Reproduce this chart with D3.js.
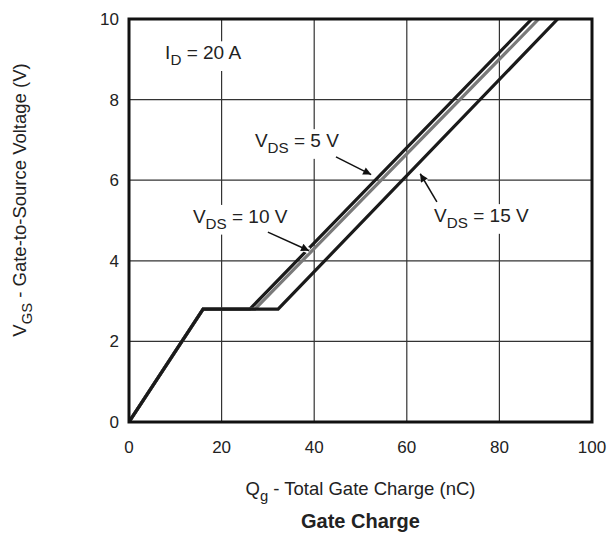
<!DOCTYPE html>
<html>
<head>
<meta charset="utf-8">
<script src="https://cdnjs.cloudflare.com/ajax/libs/d3/7.8.5/d3.min.js"></script>
<style>
  body { margin: 0; background: #fff; }
  svg text { font-family: "Liberation Sans", Arial, sans-serif; fill: #222; }
</style>
</head>
<body>
<div id="chart"></div>
<script>

// axis ticks
var qgTicks = [0, 20, 40, 60, 80, 100];
var vgsTicks = [0, 2, 4, 6, 8, 10];

// curves (nC, V)
var vgsPoints = [0, 2.8, 2.8, 10];
var qgVds5 = [0, 16, 26.1, 87.0];
var qgVds10 = [0, 16, 27.2, 88.5];
var qgVds15 = [0, 16, 32.2, 92.6];

var seriesNames = ["5", "10", "15"];
var seriesColors = ["#1a1a1a", "#7a7a7a", "#1a1a1a"];

// labels and arrows, in data units: [x, y]
var labelPos = [[27.2, 6.82], [13.8, 4.94], [65.9, 4.96]];
var arrowFrom = [[44.7, 6.58], [30.0, 4.71], [66.5, 5.46]];
var arrowTo = [[52.3, 6.14], [38.9, 4.25], [62.9, 6.16]];

var width = 608,
    height = 536,
    margin = {top: 19, right: 16, bottom: 114, left: 129};

var innerW = width - margin.left - margin.right,
    innerH = height - margin.top - margin.bottom;

var svg = d3.select('#chart').append('svg')
  .attr('width', width)
  .attr('height', height);

var x = d3.scaleLinear().domain([0, 100]).range([0, innerW]);
var y = d3.scaleLinear().domain([0, 10]).range([innerH, 0]);

var g = svg.append('g')
  .attr('transform', 'translate(' + [margin.left, margin.top] + ')');

svg.append('defs').append('clipPath').attr('id', 'plot')
  .append('rect').attr('width', innerW).attr('height', innerH);

svg.select('defs').append('marker')
  .attr('id', 'head')
  .attr('viewBox', '0 0 10 10')
  .attr('refX', 10).attr('refY', 5)
  .attr('markerWidth', 11).attr('markerHeight', 8)
  .attr('markerUnits', 'userSpaceOnUse')
  .attr('orient', 'auto')
  .append('path').attr('d', 'M0,0 L10,5 L0,10 Z').attr('fill', '#111');

// grid lines
g.selectAll('.vgrid').data(qgTicks.slice(1, -1)).enter().append('line')
  .attr('x1', d => x(d)).attr('x2', d => x(d))
  .attr('y1', 0).attr('y2', innerH)
  .attr('stroke', '#333').attr('stroke-width', 1.2);

g.selectAll('.hgrid').data(vgsTicks.slice(1, -1)).enter().append('line')
  .attr('x1', 0).attr('x2', innerW)
  .attr('y1', d => y(d)).attr('y2', d => y(d))
  .attr('stroke', '#333').attr('stroke-width', 1.2);

// tick labels
g.selectAll('.xt').data(qgTicks).enter().append('text')
  .attr('x', d => x(d)).attr('y', innerH + 31)
  .attr('text-anchor', 'middle')
  .style('font-size', '17px')
  .text(d => d);

g.selectAll('.yt').data(vgsTicks).enter().append('text')
  .attr('x', -10).attr('y', d => y(d) + 6)
  .attr('text-anchor', 'end')
  .style('font-size', '17px')
  .text(d => d);

// text labels with white boxes that cut the grid
function subLabel(sel, main, sub, rest, size) {
  sel.style('font-size', size + 'px');
  sel.append('tspan').text(main);
  sel.append('tspan').attr('dy', size * 0.3).style('font-size', (size * 0.8) + 'px').text(sub);
  sel.append('tspan').attr('dy', -size * 0.3).text(rest);
}

function boxedLabel(px, py, main, sub, rest) {
  var t = g.append('text').attr('x', px).attr('y', py);
  subLabel(t, main, sub, rest, 19);
  var bb = t.node().getBBox();
  g.insert('rect', function() { return t.node(); })
    .attr('x', bb.x - 4).attr('y', bb.y - 1)
    .attr('width', bb.width + 8).attr('height', bb.height + 4)
    .attr('fill', '#fff');
}

boxedLabel(x(7.8), y(9.0), 'I', 'D', ' = 20 A');

// curves
var line = d3.line().x(d => x(d[0])).y(d => y(d[1]));
var curves = [qgVds5, qgVds10, qgVds15].map(function(q) {
  return q.map((v, i) => [v, vgsPoints[i]]);
});

g.append('g').attr('clip-path', 'url(#plot)')
  .selectAll('path').data(curves).enter().append('path')
  .attr('d', line)
  .attr('fill', 'none')
  .attr('stroke', (d, i) => seriesColors[i])
  .attr('stroke-width', 3.2)
  .attr('stroke-linejoin', 'miter');

seriesNames.forEach(function(n, i) {
  boxedLabel(x(labelPos[i][0]), y(labelPos[i][1]), 'V', 'DS', ' = ' + n + ' V');

  // white halo under the arrow so it cuts lines behind it
  g.append('line')
    .attr('x1', x(arrowFrom[i][0])).attr('y1', y(arrowFrom[i][1]))
    .attr('x2', x(arrowTo[i][0])).attr('y2', y(arrowTo[i][1]))
    .attr('stroke', '#fff').attr('stroke-width', 6);
  g.append('line')
    .attr('x1', x(arrowFrom[i][0])).attr('y1', y(arrowFrom[i][1]))
    .attr('x2', x(arrowTo[i][0])).attr('y2', y(arrowTo[i][1]))
    .attr('stroke', '#111').attr('stroke-width', 1.5)
    .attr('marker-end', 'url(#head)');
});

// frame
g.append('rect')
  .attr('width', innerW).attr('height', innerH)
  .attr('fill', 'none').attr('stroke', '#111').attr('stroke-width', 3);

// axis titles
var xt = svg.append('text')
  .attr('x', margin.left + innerW / 2).attr('y', 495)
  .attr('text-anchor', 'middle');
subLabel(xt, 'Q', 'g', ' - Total Gate Charge (nC)', 18.5);

svg.append('text')
  .attr('x', margin.left + innerW / 2).attr('y', 528)
  .attr('text-anchor', 'middle')
  .style('font-size', '20px').style('font-weight', 'bold')
  .text('Gate Charge');

var yt = svg.append('text')
  .attr('transform', 'translate(26,200) rotate(-90)')
  .attr('text-anchor', 'middle');
subLabel(yt, 'V', 'GS', ' - Gate-to-Source Voltage (V)', 18.5);

</script>
</body>
</html>
